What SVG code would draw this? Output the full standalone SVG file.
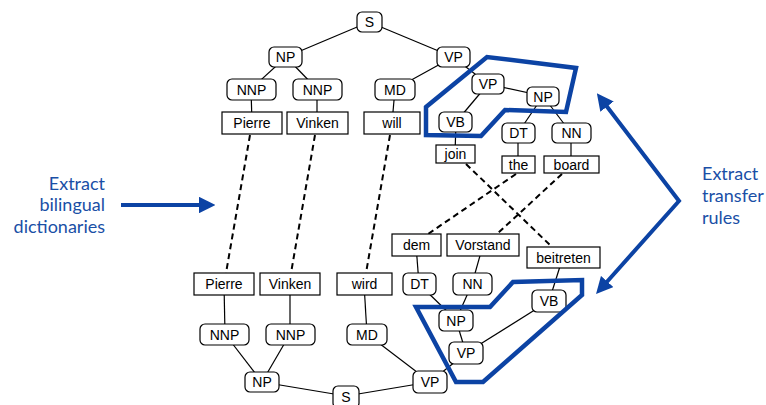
<svg xmlns="http://www.w3.org/2000/svg" width="766" height="405" viewBox="0 0 766 405">
<defs>
<style>
.n rect{fill:#fff;stroke:#000;stroke-width:1.2}
.w rect{fill:#fff;stroke:#000;stroke-width:1.2}
text{font-family:"Liberation Sans",Arial,sans-serif;font-size:14px;fill:#000;text-anchor:middle}
.e line{stroke:#000;stroke-width:1.2}
.d line{stroke:#000;stroke-width:2;stroke-dasharray:6,4}
.blue{fill:none;stroke:#0c43a4;stroke-width:4.5;stroke-linejoin:miter}
.lbl{font-family:"Lato","Open Sans",sans-serif;font-size:18px;fill:#1a4fa6}
.arr{fill:none;stroke:#0c43a4;stroke-width:4}
</style>
<marker id="ah" viewBox="0 0 10 10" refX="2" refY="5" markerWidth="4.2" markerHeight="4.2" orient="auto-start-reverse" markerUnits="strokeWidth">
<path d="M0,0 L10,5 L0,10 Z" fill="#0c43a4"/>
</marker>
</defs>
<rect width="766" height="405" fill="#fff"/>

<g id="connectors">
<g class="e">
<line x1="369" y1="22" x2="286" y2="57"/>
<line x1="369" y1="22" x2="453" y2="57"/>
<line x1="286" y1="57" x2="251" y2="89"/>
<line x1="286" y1="57" x2="317" y2="89"/>
<line x1="453" y1="57" x2="395" y2="89"/>
<line x1="453" y1="57" x2="488" y2="84"/>
<line x1="251" y1="89" x2="252" y2="123"/>
<line x1="317" y1="89" x2="317" y2="123"/>
<line x1="395" y1="89" x2="392" y2="123"/>
<line x1="488" y1="84" x2="456" y2="122"/>
<line x1="488" y1="84" x2="543" y2="96"/>
<line x1="543" y1="96" x2="518" y2="133"/>
<line x1="543" y1="96" x2="571" y2="133"/>
<line x1="456" y1="122" x2="455" y2="154"/>
<line x1="518" y1="133" x2="518" y2="164"/>
<line x1="571" y1="133" x2="571" y2="164"/>

<line x1="224" y1="284" x2="225" y2="334"/>
<line x1="290" y1="284" x2="290" y2="334"/>
<line x1="364" y1="284" x2="367" y2="334"/>
<line x1="225" y1="334" x2="262" y2="382"/>
<line x1="290" y1="334" x2="262" y2="382"/>
<line x1="262" y1="382" x2="346" y2="396"/>
<line x1="367" y1="334" x2="430" y2="382"/>
<line x1="430" y1="382" x2="346" y2="396"/>
<line x1="416" y1="245" x2="419" y2="284"/>
<line x1="483" y1="245" x2="472" y2="284"/>
<line x1="419" y1="284" x2="456" y2="320"/>
<line x1="472" y1="284" x2="456" y2="320"/>
<line x1="456" y1="320" x2="466" y2="353"/>
<line x1="466" y1="353" x2="430" y2="382"/>
<line x1="466" y1="353" x2="549" y2="301"/>
<line x1="563" y1="257" x2="549" y2="301"/>
</g>
<g class="d">
<line x1="250" y1="135" x2="226" y2="273"/>
<line x1="315" y1="135" x2="291" y2="273"/>
<line x1="390" y1="135" x2="366" y2="273"/>
<line x1="466" y1="164" x2="551" y2="246"/>
<line x1="516" y1="174" x2="428" y2="234"/>
<line x1="562" y1="174" x2="497" y2="234"/>
</g>
</g>

<g id="n-S1" class="n"><rect x="357" y="12" width="25" height="20" rx="5"/><text x="369.5" y="27">S</text></g>
<g id="n-NP1" class="n"><rect x="269" y="47" width="33" height="20" rx="5"/><text x="285.5" y="62">NP</text></g>
<g id="n-VP1" class="n"><rect x="437" y="47" width="33" height="20" rx="5"/><text x="453.5" y="62">VP</text></g>
<g id="n-NNP1" class="n"><rect x="227" y="79" width="49" height="21" rx="5"/><text x="251.5" y="94.5">NNP</text></g>
<g id="n-NNP2" class="n"><rect x="293" y="79" width="49" height="21" rx="5"/><text x="317.5" y="94.5">NNP</text></g>
<g id="n-MD1" class="n"><rect x="375" y="79" width="40" height="21" rx="5"/><text x="395" y="94.5">MD</text></g>
<g id="w-Pierre1" class="w"><rect x="222" y="112" width="60" height="22"/><text x="252" y="128">Pierre</text></g>
<g id="w-Vinken1" class="w"><rect x="287" y="112" width="61" height="22"/><text x="317.5" y="128">Vinken</text></g>
<g id="w-will" class="w"><rect x="364" y="112" width="56" height="22"/><text x="392" y="128">will</text></g>
<g id="n-VP2" class="n"><rect x="472" y="74" width="32" height="20" rx="5"/><text x="488" y="89">VP</text></g>
<g id="n-NP2" class="n"><rect x="527" y="87" width="32" height="19" rx="5"/><text x="543" y="101.5">NP</text></g>
<g id="n-VB1" class="n"><rect x="439" y="112" width="33" height="20" rx="5"/><text x="455.5" y="127">VB</text></g>
<g id="n-DT1" class="n"><rect x="502" y="123" width="33" height="20" rx="5"/><text x="518.5" y="138">DT</text></g>
<g id="n-NN1" class="n"><rect x="552" y="123" width="39" height="20" rx="5"/><text x="571.5" y="138">NN</text></g>
<g id="w-join" class="w"><rect x="436" y="145" width="39" height="18"/><text x="455.5" y="159">join</text></g>
<g id="w-the" class="w"><rect x="502" y="156" width="33" height="17"/><text x="518.5" y="169.5">the</text></g>
<g id="w-board" class="w"><rect x="544" y="156" width="55" height="17"/><text x="571.5" y="169.5">board</text></g>

<g id="w-dem" class="w"><rect x="392" y="234" width="49" height="22"/><text x="416.5" y="250">dem</text></g>
<g id="w-Vorstand" class="w"><rect x="447" y="234" width="72" height="22"/><text x="483" y="250">Vorstand</text></g>
<g id="w-beitreten" class="w"><rect x="527" y="247" width="73" height="21"/><text x="563.5" y="262.5">beitreten</text></g>
<g id="w-Pierre2" class="w"><rect x="194" y="273" width="60" height="22"/><text x="224" y="289">Pierre</text></g>
<g id="w-Vinken2" class="w"><rect x="260" y="273" width="60" height="22"/><text x="290" y="289">Vinken</text></g>
<g id="w-wird" class="w"><rect x="337" y="273" width="55" height="22"/><text x="364.5" y="289">wird</text></g>
<g id="n-DT2" class="n"><rect x="403" y="273" width="33" height="22" rx="5"/><text x="419.5" y="289">DT</text></g>
<g id="n-NN2" class="n"><rect x="453" y="273" width="39" height="22" rx="5"/><text x="472.5" y="289">NN</text></g>
<g id="n-VB2" class="n"><rect x="532" y="290" width="34" height="22" rx="5"/><text x="549" y="306">VB</text></g>
<g id="n-NP3" class="n"><rect x="439" y="310" width="34" height="21" rx="5"/><text x="456" y="325.5">NP</text></g>
<g id="n-NNP3" class="n"><rect x="200" y="324" width="49" height="21" rx="5"/><text x="224.5" y="339.5">NNP</text></g>
<g id="n-NNP4" class="n"><rect x="266" y="324" width="49" height="21" rx="5"/><text x="290.5" y="339.5">NNP</text></g>
<g id="n-MD2" class="n"><rect x="347" y="324" width="40" height="21" rx="5"/><text x="367" y="339.5">MD</text></g>
<g id="n-VP3" class="n"><rect x="449" y="342" width="34" height="22" rx="5"/><text x="466" y="358">VP</text></g>
<g id="n-NP4" class="n"><rect x="245" y="372" width="34" height="20" rx="5"/><text x="262" y="387">NP</text></g>
<g id="n-VP4" class="n"><rect x="413" y="371" width="34" height="22" rx="5"/><text x="430" y="387">VP</text></g>
<g id="n-S2" class="n"><rect x="333" y="386" width="26" height="22" rx="5"/><text x="346" y="402">S</text></g>

<polygon class="blue" points="426,107 487,57 576,68 566,112 505,110 481,136 426,135"/>
<polygon class="blue" points="416,307 490,307 513,282 582,280 582,295 483,382 456,382"/>

<g id="annot-left">
<text class="lbl" x="105" y="190" style="text-anchor:end">Extract</text>
<text class="lbl" x="105" y="211" style="text-anchor:end">bilingual</text>
<text class="lbl" x="105" y="233" style="text-anchor:end">dictionaries</text>
<line class="arr" x1="121" y1="205" x2="202" y2="205" marker-end="url(#ah)"/>
</g>
<g id="annot-right">
<text class="lbl" x="702" y="180" style="text-anchor:start">Extract</text>
<text class="lbl" x="702" y="202" style="text-anchor:start">transfer</text>
<text class="lbl" x="702" y="224" style="text-anchor:start">rules</text>
<polyline class="arr" points="605,104 679,201 605,284" marker-start="url(#ah)" marker-end="url(#ah)"/>
</g>
</svg>
